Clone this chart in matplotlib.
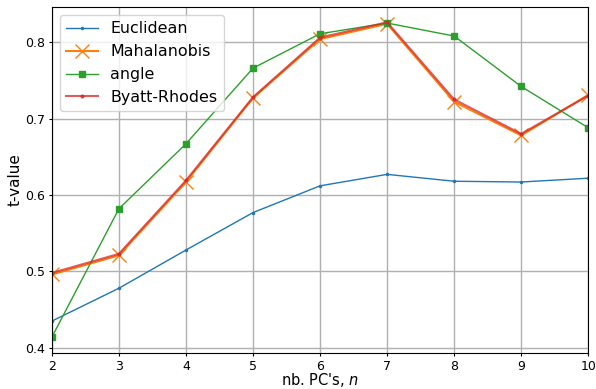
import numpy as np
import matplotlib
matplotlib.use("Agg")
from matplotlib import pyplot

# t-values per number of principal components
n_pcs = [2, 3, 4, 5, 6, 7, 8, 9, 10]
euclidean = [0.435, 0.478, 0.528, 0.577, 0.612, 0.627, 0.618, 0.617, 0.622]
mahalanobis = [0.496, 0.521, 0.617, 0.727, 0.804, 0.824, 0.722, 0.678, 0.731]
angle = [0.414, 0.582, 0.667, 0.766, 0.811, 0.825, 0.808, 0.742, 0.688]
byatt_rhodes = [0.498, 0.523, 0.619, 0.728, 0.806, 0.826, 0.725, 0.680, 0.730]

fig = pyplot.figure(figsize=(5.96, 3.89), dpi=100)
ax = fig.add_subplot(111)

ax.plot(n_pcs, euclidean, '.-', color='#1f77b4', lw=1, ms=3, label='Euclidean')
ax.plot(n_pcs, mahalanobis, 'x-', color='#ff7f0e', lw=1.5, ms=10, mew=1,
        label='Mahalanobis')
ax.plot(n_pcs, angle, 's-', color='#2ca02c', lw=1, ms=5, label='angle')
ax.plot(n_pcs, byatt_rhodes, '.-', color='#d62728', lw=1.5, ms=4, alpha=0.75,
        label='Byatt-Rhodes')

ax.set_xlim(2, 10)
ax.set_ylim(0.3935, 0.846)
ax.set_yticks([0.4, 0.5, 0.6, 0.7, 0.8])
ax.tick_params(labelsize=9, length=2.5, pad=2.5)
ax.grid(True, lw=1)
ax.set_xlabel("nb. PC's, $n$", fontsize=10.5, labelpad=-1)
ax.set_ylabel("t-value", fontsize=11, labelpad=2)
ax.legend(loc='upper left', fontsize=11.4)

fig.subplots_adjust(left=0.087, right=0.987, top=0.982, bottom=0.093)
fig.savefig("out.png", dpi=100)
